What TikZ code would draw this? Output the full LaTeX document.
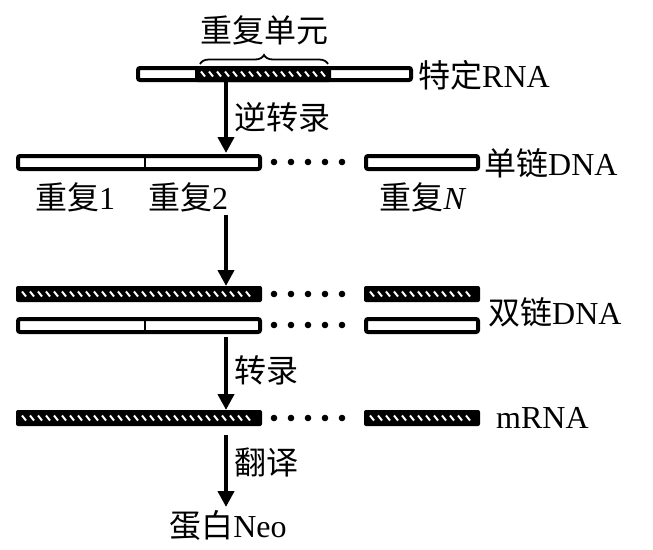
\documentclass[tikz,border=0pt]{standalone}
\usepackage{fontspec}
\setmainfont{Liberation Serif}
\newfontfamily\cjk{Noto Sans CJK SC}
\usetikzlibrary{decorations.pathreplacing,arrows.meta}
\begin{document}
\begin{tikzpicture}[x=1pt,y=-1pt,
  lab/.style={font=\fontsize{32}{34}\selectfont, inner sep=0pt},
  bar/.style={draw=black, line width=4pt, fill=white, rounded corners=2pt},
  arr/.style={line width=4pt, -{Triangle[length=16pt,width=16pt]}}]
\useasboundingbox (0,0) rectangle (653,549);
\newcommand{\hatchbar}[4]{% x1 x2 y1 y2
  \fill[black, rounded corners=2pt] (#1,#3) rectangle (#2,#4);
  \pgfmathsetmacro{\ym}{(#3+#4)/2}
  \pgfmathtruncatemacro{\xa}{#1+6}
  \pgfmathtruncatemacro{\xb}{#1+14}
  \pgfmathtruncatemacro{\xc}{#2-9}
  \foreach \xx in {\xa,\xb,...,\xc} {\draw[white,line width=2pt] (\xx,\ym-2.5) -- (\xx+4,\ym+2.5);}
}
\newcommand{\dotrow}[1]{\foreach \xx in {274,291,...,355} \fill (\xx,#1) circle (3.3);}
% top RNA
\draw[bar] (138,68) rectangle (411,80);
\hatchbar{195}{331}{66}{82}
\draw[line width=1.8pt, decorate, decoration={brace, amplitude=9pt}] (200,64) -- (328,64);
\node[lab] (rep) at (264,30) {\cjk 重复单元};
\node[lab, anchor=west] (rna) at (418,75) {{\cjk 特定}RNA};
\coordinate (a1s) at (226,82); \coordinate (a1e) at (226,153);
\draw[arr] (a1s) -- (a1e);
\node[lab, anchor=west] (l1) at (234,117) {\cjk 逆转录};
% single strand
\draw[bar] (18,156) rectangle (260,169);
\draw[line width=2.5pt] (145,156) -- (145,169);
\dotrow{162}
\draw[bar] (366,156) rectangle (478,169);
\node[lab, anchor=west] (ss) at (484,163) {{\cjk 单链}DNA};
\node[lab] (r1) at (75,197) {{\cjk 重复}1};
\node[lab] (r2) at (188,197) {{\cjk 重复}2};
\node[lab] (rn) at (423,197) {{\cjk 重复}\textit{N}};
\coordinate (a2s) at (226,215); \coordinate (a2e) at (226,286);
\draw[arr] (a2s) -- (a2e);
% double strand
\hatchbar{16}{262}{286}{302}
\dotrow{294}
\hatchbar{364}{480}{286}{302}
\draw[bar] (18,319) rectangle (260,332);
\draw[line width=2.5pt] (145,319) -- (145,332);
\dotrow{325}
\draw[bar] (366,319) rectangle (478,332);
\node[lab, anchor=west] (ds) at (488,312) {{\cjk 双链}DNA};
\coordinate (a3s) at (226,337); \coordinate (a3e) at (226,410);
\draw[arr] (a3s) -- (a3e);
\node[lab, anchor=west] (l3) at (234,370) {\cjk 转录};
% mRNA
\hatchbar{16}{262}{410}{426}
\dotrow{418}
\hatchbar{364}{480}{410}{426}
\node[lab, anchor=west] (mr) at (496,418) {mRNA};
\coordinate (a4s) at (226,435); \coordinate (a4e) at (226,507);
\draw[arr] (a4s) -- (a4e);
\node[lab, anchor=west] (l4) at (234,462) {\cjk 翻译};
\node[lab] (neo) at (228,525) {{\cjk 蛋白}Neo};
\end{tikzpicture}
\end{document}
